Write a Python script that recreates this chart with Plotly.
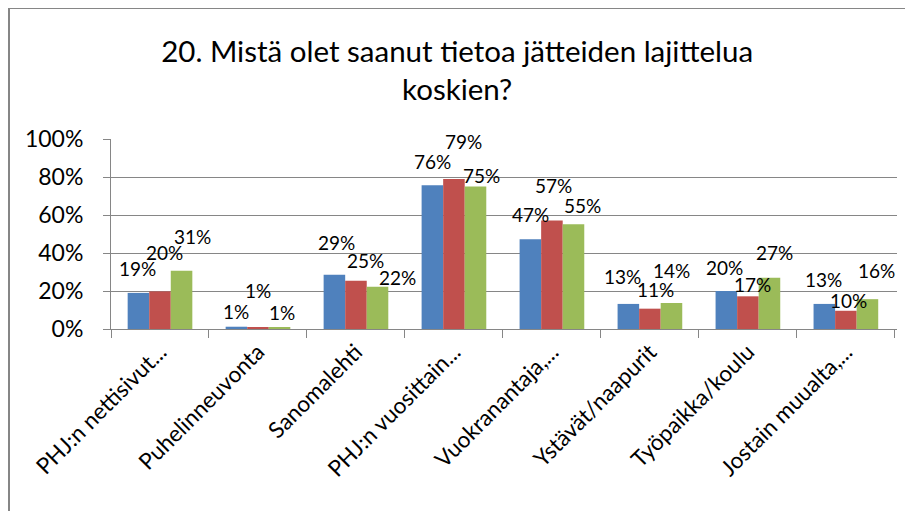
import plotly.graph_objects as go

categories = ["PHJ:n nettisivut...", "Puhelinneuvonta", "Sanomalehti", "PHJ:n vuosittain...",
              "Vuokranantaja,...", "Ystävät/naapurit", "Työpaikka/koulu", "Jostain muualta,..."]
series_a = [0.19, 0.012, 0.286, 0.757, 0.472, 0.132, 0.200, 0.132]
series_b = [0.198, 0.007, 0.254, 0.790, 0.571, 0.107, 0.172, 0.096]
series_c = [0.306, 0.006, 0.222, 0.750, 0.551, 0.137, 0.270, 0.157]
y_ticks = [0, 0.2, 0.4, 0.6, 0.8, 1.0]
y_tick_labels = ["0%", "20%", "40%", "60%", "80%", "100%"]
title_text = "20. Mistä olet saanut tietoa jätteiden lajittelua<br>koskien?"

FONT = "Lato"
colors = ["#4F81BD", "#C0504D", "#9BBB59"]
series = [series_a, series_b, series_c]
names = ["A", "B", "C"]

# label placement offsets (pixels, style only)
label_dx = [[-1, 0, 2, 0, 0, -6, -2, -1],
            [5, 0, 10, 10, 2, 6, 5, 3],
            [11, 2, 20, 6, 9, 0, 5, 9]]
label_dy = [[24, 15, 32, 24, 25, 27, 24, 24],
            [39, 37, 20, 37, 35, 19, 12, 10],
            [34, 15, 9, 11, 19, 32, 25, 29]]

L, R, T, B = 103, 24, 131, 190
W, H = 913, 511
PW = W - L - R
PH = H - T - B
BARGAP = 0.34
bar_w = PW / len(categories) * (1 - BARGAP) / 3

fig = go.Figure()
for vals, col, nm in zip(series, colors, names):
    fig.add_trace(go.Bar(x=categories, y=vals, name=nm, marker=dict(color=col, line=dict(width=0)),
                         hoverinfo="skip"))

annotations = []
for si, vals in enumerate(series):
    for ci, v in enumerate(vals):
        annotations.append(dict(
            x=ci, y=v, xref="x", yref="y", text=f"{round(v*100):d}%", showarrow=False,
            xanchor="center", yanchor="middle",
            xshift=(si - 1) * bar_w + label_dx[si][ci], yshift=label_dy[si][ci],
            font=dict(family=FONT, size=19, color="#000000")))

fig.update_layout(
    width=W, height=H,
    margin=dict(l=L, r=R, t=T, b=B),
    paper_bgcolor="white", plot_bgcolor="white",
    showlegend=False,
    barmode="group", bargap=BARGAP, bargroupgap=0,
    title=dict(text=title_text, x=0.492, xanchor="center", y=0.895, yanchor="middle",
               font=dict(family=FONT, size=29.5, color="#000000")),
    font=dict(family=FONT, color="#000000"),
    annotations=annotations,
    shapes=[dict(type="rect", xref="paper", yref="paper",
                 x0=(1 - L) / PW, x1=(W + 20 - L) / PW,
                 y0=(PH - (H + 20 - T)) / PH, y1=(PH + T - 0) / PH,
                 line=dict(color="#868686", width=2), fillcolor="rgba(0,0,0,0)", layer="below")],
)
fig.update_yaxes(range=[0, 1.0], tickvals=y_ticks, ticktext=y_tick_labels,
                 showgrid=True, gridcolor="#868686", gridwidth=1,
                 showline=True, linecolor="#868686", linewidth=1,
                 ticks="outside", ticklen=7, tickcolor="#868686", ticklabelstandoff=15,
                 tickfont=dict(family=FONT, size=23), zeroline=False)
fig.update_xaxes(tickangle=-45, showline=True, linecolor="#868686", linewidth=1,
                 ticks="outside", ticklen=8, tickcolor="#868686", tickson="boundaries",
                 tickfont=dict(family=FONT, size=22.5))

fig.write_html("out.html")
